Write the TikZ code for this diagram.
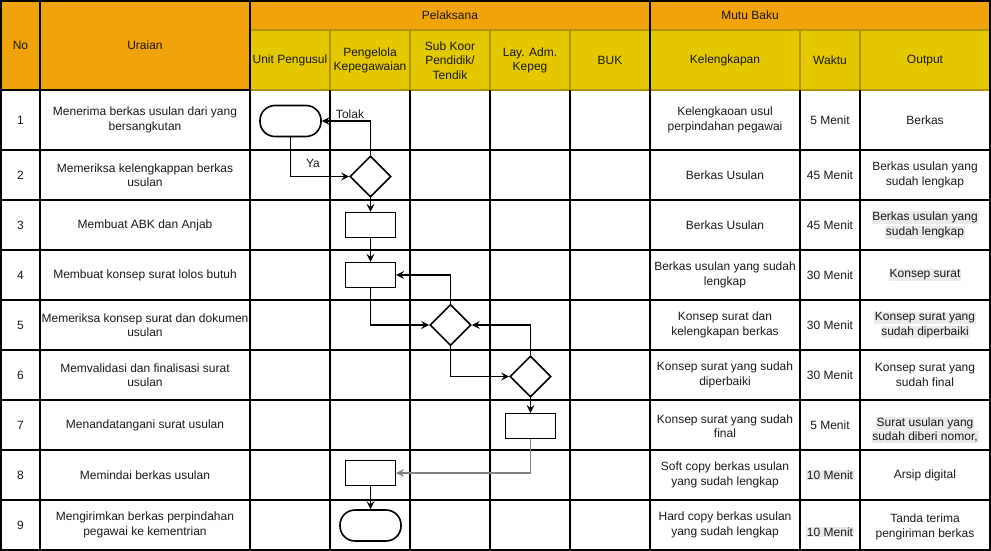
\documentclass[tikz,border=0pt]{standalone}
\usepackage{fontspec}
\setmainfont{Liberation Sans}
\usetikzlibrary{shapes.geometric,arrows.meta}
\definecolor{hdrorange}{HTML}{F0A30A}
\definecolor{hdryellow}{HTML}{E3C800}
\definecolor{hdrline}{HTML}{B09500}
\definecolor{hlgrey}{HTML}{EBEBEB}
\definecolor{txtc}{HTML}{1A1A1A}
\newcommand{\hlt}[1]{{\setlength{\fboxsep}{0.8pt}\colorbox{hlgrey}{#1}}}
\begin{document}
\begin{tikzpicture}[x=1pt,y=-1pt,
  txt/.style={align=center, font=\fontsize{12}{14.5}\selectfont, inner sep=0pt, text=txtc},
  gridb/.style={line width=1.2pt, black},
  grido/.style={line width=1.2pt, hdrline},
  termbox/.style={draw, line width=1.6pt, minimum width=61pt, minimum height=31pt, rounded corners=15pt, inner sep=0pt},
  procbox/.style={draw, line width=1.2pt, minimum width=50pt, minimum height=25pt, inner sep=0pt},
  decbox/.style={draw, diamond, line width=1.6pt, minimum width=41pt, minimum height=41pt, inner sep=0pt},
  arr/.style={line width=1.2pt, -{Stealth[length=8pt,width=8pt,inset=3pt]}},
]
\useasboundingbox (0,0) rectangle (991,551);
% header fills
\fill[hdrorange] (1,1) rectangle (990,30);
\fill[hdrorange] (1,1) rectangle (250,90);
\fill[hdryellow] (250,30) rectangle (990,90);
% header olive lines
\draw[grido] (250,30) -- (990,30);
\draw[grido] (250,90) -- (990,90);
\foreach \x in {330,410,490,570,800,860} \draw[grido] (\x,30) -- (\x,90);
% body grid
\foreach \x in {330,410,490,570,800,860} \draw[gridb] (\x,90) -- (\x,550);
\foreach \y in {150,200,250,300,350,400,450,500} \draw[gridb] (1,\y) -- (990,\y);
\draw[gridb] (1,90) -- (250,90);
\foreach \x in {40,250,650} \draw[gridb] (\x,1) -- (\x,550);
\draw[gridb] (1,1) rectangle (990,550);
\draw[gridb] (250,1) -- (990,1);

% header text
\node[txt] (hno) at (20.5,45.5) {No};
\node[txt] (hur) at (145,45.5) {Uraian};
\node[txt] (hpel) at (450,15.5) {Pelaksana};
\node[txt] (hmutu) at (750,15.5) {Mutu Baku};
\node[txt] (hunit) at (290,60.5) {Unit Pengusul};
\node[txt] (hpeng) at (370,60.5) {Pengelola\\Kepegawaian};
\node[txt] (hsub) at (450,60.5) {Sub Koor\\Pendidik/\\Tendik};
\node[txt] (hlay) at (530,60.5) {Lay. Adm.\\Kepeg};
\node[txt] (hbuk) at (610,60.5) {BUK};
\node[txt] (hkel) at (725,60.5) {Kelengkapan};
\node[txt] (hwak) at (830,60.5) {Waktu};
\node[txt] (hout) at (925,60.5) {Output};

% row texts
\node[txt] (n1) at (20.5,120) {1};
\node[txt] (n2) at (20.5,175) {2};
\node[txt] (n3) at (20.5,225) {3};
\node[txt] (n4) at (20.5,275) {4};
\node[txt] (n5) at (20.5,325) {5};
\node[txt] (n6) at (20.5,375) {6};
\node[txt] (n7) at (20.5,425) {7};
\node[txt] (n8) at (20.5,475) {8};
\node[txt] (n9) at (20.5,525) {9};

\node[txt] (u1) at (145,120) {Menerima berkas usulan dari yang\\bersangkutan};
\node[txt] (u2) at (145,175) {Memeriksa kelengkappan berkas\\usulan};
\node[txt] (u3) at (145,225) {Membuat ABK dan Anjab};
\node[txt] (u4) at (145,275) {Membuat konsep surat lolos butuh};
\node[txt] (u5) at (145,325) {Memeriksa konsep surat dan dokumen\\usulan};
\node[txt] (u6) at (145,375) {Memvalidasi dan finalisasi surat\\usulan};
\node[txt] (u7) at (145,425) {Menandatangani surat usulan};
\node[txt] (u8) at (145,475) {Memindai berkas usulan};
\node[txt] (u9) at (145,525) {Mengirimkan berkas perpindahan\\pegawai ke kementrian};

\node[txt] (k1) at (725,120) {Kelengkaoan usul\\perpindahan pegawai};
\node[txt] (k2) at (725,175) {Berkas Usulan};
\node[txt] (k3) at (725,225) {Berkas Usulan};
\node[txt] (k4) at (725,275) {Berkas usulan yang sudah\\lengkap};
\node[txt] (k5) at (725,325) {Konsep surat dan\\kelengkapan berkas};
\node[txt] (k6) at (725,375) {Konsep surat yang sudah\\diperbaiki};
\node[txt] (k7) at (725,426) {Konsep surat yang sudah\\final};
\node[txt] (k8) at (725,475) {Soft copy berkas usulan\\yang sudah lengkap};
\node[txt] (k9) at (725,525) {Hard copy berkas usulan\\yang sudah lengkap};

\node[txt] (w1) at (830,120) {5 Menit};
\node[txt] (w2) at (830,175) {45 Menit};
\node[txt] (w3) at (830,225) {45 Menit};
\node[txt] (w4) at (830,275) {30 Menit};
\node[txt] (w5) at (830,325) {30 Menit};
\node[txt] (w6) at (830,375) {30 Menit};
\node[txt] (w7) at (830,425) {5 Menit};
\node[txt] (w8) at (830,475) {\hlt{10 Menit}};
\node[txt] (w9) at (830,532) {\hlt{10 Menit}};

\node[txt] (o1) at (925,120) {Berkas};
\node[txt] (o2) at (925,175) {Berkas usulan yang\\sudah lengkap};
\node[txt] (o3) at (925,225) {\hlt{Berkas usulan yang}\\\hlt{sudah lengkap}};
\node[txt] (o4) at (925,275) {\hlt{Konsep surat}};
\node[txt] (o5) at (925,325) {\hlt{Konsep surat yang}\\\hlt{sudah diperbaiki}};
\node[txt] (o6) at (925,375) {Konsep surat yang\\sudah final};
\node[txt] (o7) at (925,430) {\hlt{Surat usulan yang}\\\hlt{sudah diberi nomor,}};
\node[txt] (o8) at (925,475) {Arsip digital};
\node[txt] (o9) at (925,527) {Tanda terima\\pengiriman berkas};

% flowchart shapes
\node[termbox] (t1) at (290.5,121) {};
\node[decbox] (d1) at (370.5,176.5) {};
\node[procbox] (r3) at (370.5,225) {};
\node[procbox] (r4) at (370.5,275) {};
\node[decbox] (d5) at (450.5,325) {};
\node[decbox] (d6) at (530.5,376.5) {};
\node[procbox] (r7) at (530.5,426) {};
\node[procbox] (r8) at (370.5,473) {};
\node[termbox] (t9) at (370.5,525.5) {};

% connectors
\draw[arr] (d1.north) |- (t1.east);
\node[txt] (ltolak) at (350,114) {Tolak};
\draw[arr] (t1.south) |- (d1.west);
\node[txt] (lya) at (313,163) {Ya};
\draw[arr] (d1.south) -- (r3.north);
\draw[arr] (r3.south) -- (r4.north);
\draw[arr] (d5.north) |- (r4.east);
\draw[arr] (r4.south) |- (d5.west);
\draw[arr] (d6.north) |- (d5.east);
\draw[arr] (d5.south) |- (d6.west);
\draw[arr] (d6.south) -- (r7.north);
\draw[arr, gray] (r7.south) |- (r8.east);
\draw[arr] (r8.south) -- (t9.north);
\end{tikzpicture}
\end{document}
